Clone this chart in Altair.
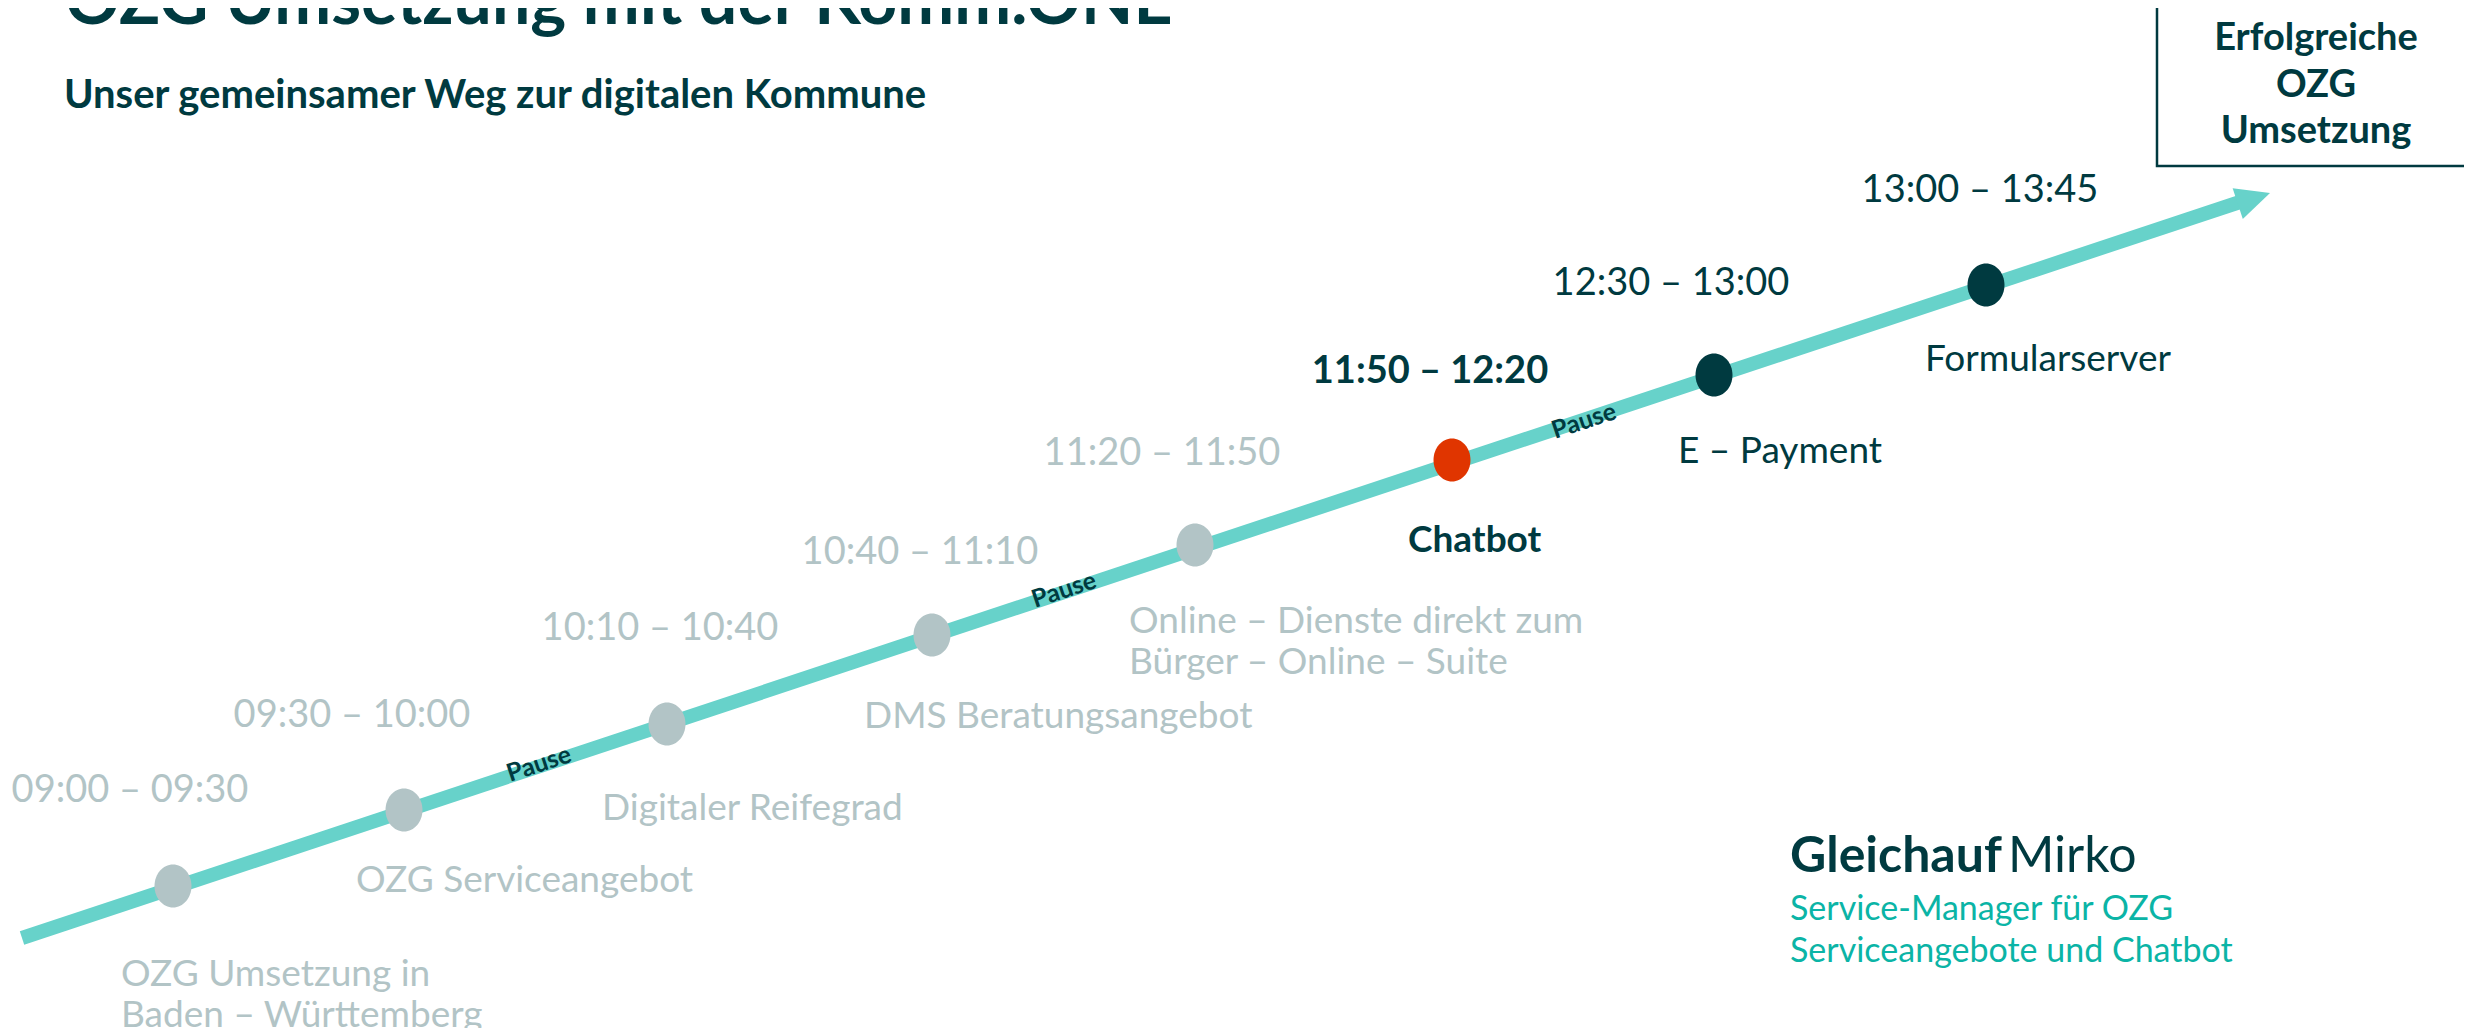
import altair as alt
import pandas as pd

# ---------------- data ----------------
title_text = "OZG Umsetzung mit der Komm.ONE"
subtitle_text = "Unser gemeinsamer Weg zur digitalen Kommune"
goal_lines = ["Erfolgreiche", "OZG", "Umsetzung"]

stage_time = ["09:00 – 09:30", "09:30 – 10:00", "10:10 – 10:40", "10:40 – 11:10",
              "11:20 – 11:50", "11:50 – 12:20", "12:30 – 13:00", "13:00 – 13:45"]
stage_topic = ["OZG Umsetzung in\nBaden – Württemberg", "OZG Serviceangebot",
               "Digitaler Reifegrad", "DMS Beratungsangebot",
               "Online – Dienste direkt zum\nBürger – Online – Suite", "Chatbot",
               "E – Payment", "Formularserver"]
stage_status = ["done", "done", "done", "done", "done", "current", "upcoming", "upcoming"]

# positions on the diagram canvas (page pixel units)
dot_x = [173, 404, 667, 932, 1195, 1452, 1714, 1986]
dot_y = [886, 810, 724, 635, 545, 460, 375, 285]
time_x = [130, 352, 660, 920, 1162, 1430, 1671, 1980]
time_y = [791, 716, 629, 553, 454, 372, 284, 191]
topic_x = [121, 356, 602, 864, 1129, 1408, 1678, 1925]
topic_y = [975, 881, 809, 717, 622, 541, 452, 360]
pause_x = [539, 1064, 1584]
pause_y = [764, 590, 421]
path_x = [22, 2240]
path_y = [938, 202]
tip_x, tip_y = 2270, 193

speaker_last = "Gleichauf"
speaker_first = "Mirko"
speaker_role = ["Service-Manager für OZG", "Serviceangebote und Chatbot"]

# ---------------- style ----------------
DARK = "#003a40"
GREY = "#b2c4c6"
TURQ = "#67d2ca"
ORANGE = "#e03500"
TEAL = "#0bb4a6"
FONT = "Lato"
ANGLE = 341.67

W, H = 2456, 1020
xs = alt.Scale(domain=[8, 2464], nice=False, zero=False)
ys = alt.Scale(domain=[8, 1028], nice=False, zero=False, reverse=True)


def X(f="x"):
    return alt.X(f"{f}:Q", scale=xs, axis=None)


def Y(f="y"):
    return alt.Y(f"{f}:Q", scale=ys, axis=None)


status_scale = alt.Scale(domain=["done", "current", "upcoming"], range=[GREY, ORANGE, DARK])
text_scale = alt.Scale(domain=["done", "current", "upcoming"], range=[GREY, DARK, DARK])

stages = pd.DataFrame({"time": stage_time, "status": stage_status,
                       "dx": dot_x, "dy": dot_y, "tx": time_x, "ty": time_y})

rows = []
for t, s, x0, y0 in zip(stage_topic, stage_status, topic_x, topic_y):
    for i, line in enumerate(t.split("\n")):
        rows.append({"text": line, "status": s, "x": x0, "y": y0 + i * 41})
topics = pd.DataFrame(rows)

# ---------------- layers ----------------
title = alt.Chart(pd.DataFrame({"x": [65], "y": [24], "t": [title_text]})).mark_text(
    align="left", baseline="alphabetic", font=FONT, fontSize=68, fontWeight="bold", color=DARK
).encode(x=X(), y=Y(), text="t:N")

subtitle = alt.Chart(pd.DataFrame({"x": [64], "y": [96], "t": [subtitle_text]})).mark_text(
    align="left", baseline="middle", font=FONT, fontSize=40, fontWeight="bold", color=DARK
).encode(x=X(), y=Y(), text="t:N")

box = alt.Chart(pd.DataFrame({"x": [2157], "x2": [2520], "y": [6], "y2": [166]})).mark_rect(
    fill="white", stroke=DARK, strokeWidth=2.5
).encode(x=X(), x2="x2:Q", y=Y(), y2="y2:Q")

box_text = alt.Chart(pd.DataFrame({"x": [2316] * 3, "y": [39, 86, 132], "t": goal_lines})).mark_text(
    align="center", baseline="middle", font=FONT, fontSize=38, fontWeight="bold", color=DARK
).encode(x=X(), y=Y(), text="t:N")

line = alt.Chart(pd.DataFrame({"x": path_x, "y": path_y, "o": [0, 1]})).mark_line(
    color=TURQ, strokeWidth=14, strokeCap="butt"
).encode(x=X(), y=Y(), order="o:Q")

arrow = alt.Chart(pd.DataFrame({"x": [tip_x], "y": [tip_y]})).mark_point(
    shape="M0,0 L-2,-0.95 L-2,0.95 Z", filled=True, size=1156, angle=ANGLE,
    color=TURQ, opacity=1, strokeWidth=0
).encode(x=X(), y=Y())

dots = alt.Chart(stages).mark_point(
    shape="M-0.86,0 A0.86,1 0 1,1 0.86,0 A0.86,1 0 1,1 -0.86,0 Z",
    filled=True, size=1849, opacity=1, strokeWidth=0
).encode(x=X("dx"), y=Y("dy"),
         color=alt.Color("status:N", scale=status_scale, legend=None))

times_reg = alt.Chart(stages).transform_filter(alt.datum.status != "current").mark_text(
    align="center", baseline="middle", font=FONT, fontSize=38
).encode(x=X("tx"), y=Y("ty"), text="time:N",
         color=alt.Color("status:N", scale=text_scale, legend=None))

times_cur = alt.Chart(stages).transform_filter(alt.datum.status == "current").mark_text(
    align="center", baseline="middle", font=FONT, fontSize=38, fontWeight="bold", color=DARK
).encode(x=X("tx"), y=Y("ty"), text="time:N")

topics_reg = alt.Chart(topics).transform_filter(alt.datum.status != "current").mark_text(
    align="left", baseline="middle", font=FONT, fontSize=37
).encode(x=X(), y=Y(), text="text:N",
         color=alt.Color("status:N", scale=text_scale, legend=None))

topics_cur = alt.Chart(topics).transform_filter(alt.datum.status == "current").mark_text(
    align="left", baseline="middle", font=FONT, fontSize=37, fontWeight="bold", color=DARK
).encode(x=X(), y=Y(), text="text:N")

pauses = alt.Chart(pd.DataFrame({"x": pause_x, "y": pause_y, "t": ["Pause"] * 3})).mark_text(
    align="center", baseline="middle", font=FONT, fontSize=25, fontWeight="bold",
    color=DARK, angle=ANGLE
).encode(x=X(), y=Y(), text="t:N")

name_last = alt.Chart(pd.DataFrame({"x": [1790], "y": [872], "t": [speaker_last]})).mark_text(
    align="left", baseline="alphabetic", font=FONT, fontSize=50, fontWeight="bold", color=DARK
).encode(x=X(), y=Y(), text="t:N")

name_first = alt.Chart(pd.DataFrame({"x": [2008], "y": [872], "t": [speaker_first]})).mark_text(
    align="left", baseline="alphabetic", font=FONT, fontSize=50, color=DARK
).encode(x=X(), y=Y(), text="t:N")

role = alt.Chart(pd.DataFrame({"x": [1790, 1790], "y": [910, 952], "t": speaker_role})).mark_text(
    align="left", baseline="middle", font=FONT, fontSize=34, color=TEAL
).encode(x=X(), y=Y(), text="t:N")

chart = alt.layer(
    title, subtitle, box, box_text, line, arrow, dots,
    times_reg, times_cur, topics_reg, topics_cur, pauses,
    name_last, name_first, role
).properties(
    width=W, height=H, autosize=alt.AutoSizeParams(type="none"), padding=0,
    background="white"
).configure_view(stroke=None)

chart.save("out.html", embed_options={"renderer": "svg", "actions": False})
